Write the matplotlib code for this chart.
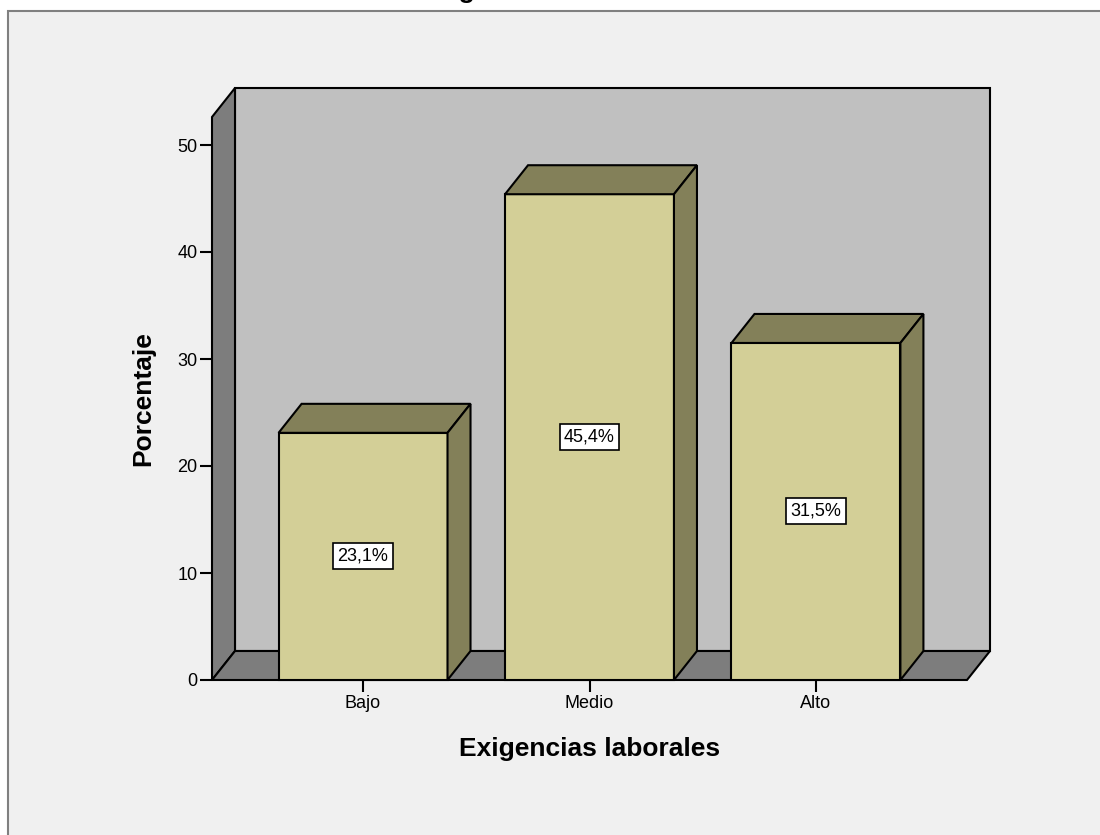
import matplotlib.pyplot as plt
import matplotlib.patches as patches

categorias = ["Bajo", "Medio", "Alto"]
porcentajes = [23.1, 45.4, 31.5]
etiquetas = ["23,1%", "45,4%", "31,5%"]
y_ticks = [0, 10, 20, 30, 40, 50]

W, H = 1100, 835
plt.rcParams["font.family"] = ["Liberation Sans", "DejaVu Sans"]

fig = plt.figure(figsize=(W / 100, H / 100), dpi=100)
fig.patch.set_facecolor("white")

# grey panel with its frame, kept behind the axes
panel = patches.Rectangle((8 / W, -0.2), 1.2, 1.2 - 11 / H, transform=fig.transFigure,
                          facecolor="#f0f0f0", edgecolor="#808080", linewidth=1.5,
                          zorder=-10)
fig.add_artist(panel)

# title, mostly cut off at the top edge
fig.text(0.5, 1 + 2.2 / H, "Exigencias laborales", ha="center", va="baseline",
         fontsize=19, fontweight="bold")

# axes spanning the front plane of the 3D box
x0, x1 = 212, 967
y0, y1 = 680, 117
ax = fig.add_axes([x0 / W, 1 - y0 / H, (x1 - x0) / W, (y0 - y1) / H])
ax.patch.set_alpha(0)
xmin, xmax = -0.667, 2.667
px_per_unit = 535 / 50
ymax = (y0 - y1) / px_per_unit
ax.set_xlim(xmin, xmax)
ax.set_ylim(0, ymax)
for s in ax.spines.values():
    s.set_visible(False)

# depth offset in data units
ddx = 23 / (x1 - x0) * (xmax - xmin)
ddy = 29 / px_per_unit
edge = dict(edgecolor="black", linewidth=1.5, clip_on=False, joinstyle="miter")

# back wall, left wall, floor
ax.add_patch(patches.Polygon([(xmin + ddx, ddy), (xmax + ddx, ddy),
                              (xmax + ddx, ymax + ddy), (xmin + ddx, ymax + ddy)],
                             facecolor="#c0c0c0", zorder=1, **edge))
ax.add_patch(patches.Polygon([(xmin, 0), (xmin + ddx, ddy), (xmin + ddx, ymax + ddy),
                              (xmin, ymax)], facecolor="#7d7d7d", zorder=2, **edge))
ax.add_patch(patches.Polygon([(xmin, 0), (xmin + ddx, ddy), (xmax + ddx, ddy),
                              (xmax, 0)], facecolor="#7d7d7d", zorder=2, **edge))

# bars
ancho = 0.746
for i, v in enumerate(porcentajes):
    l, r = i - ancho / 2, i + ancho / 2
    ax.add_patch(patches.Polygon([(l, 0), (r, 0), (r, v), (l, v)],
                                 facecolor="#d3cf97", zorder=3, **edge))
    ax.add_patch(patches.Polygon([(l, v), (r, v), (r + ddx, v + ddy), (l + ddx, v + ddy)],
                                 facecolor="#838059", zorder=3, **edge))
    ax.add_patch(patches.Polygon([(r, 0), (r + ddx, ddy), (r + ddx, v + ddy), (r, v)],
                                 facecolor="#838059", zorder=3, **edge))
    ax.text(i, v / 2, etiquetas[i], ha="center", va="center", fontsize=13, zorder=5,
            bbox=dict(boxstyle="square,pad=0.25", facecolor="white",
                      edgecolor="black", linewidth=1.2))

ax.set_yticks(y_ticks)
ax.set_xticks(range(len(categorias)))
ax.set_xticklabels(categorias)
ax.tick_params(axis="both", direction="out", length=8.5, width=1.5, labelsize=13,
               colors="black", pad=2)

ax.set_xlabel("Exigencias laborales", fontsize=19, fontweight="bold", labelpad=18)
ax.set_ylabel("Porcentaje", fontsize=19, fontweight="bold", labelpad=16)

fig.savefig("out.png", dpi=100)
